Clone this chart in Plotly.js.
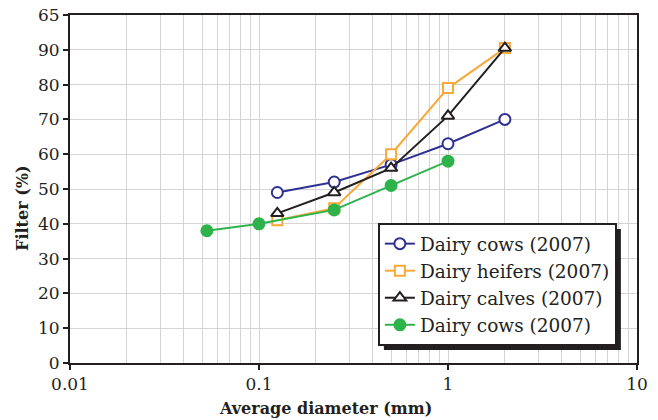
<!DOCTYPE html>
<html><head><meta charset="utf-8">
<script src="https://cdn.plot.ly/plotly-3.0.1.min.js"></script>
<style>body{margin:0;background:#fff}</style>
</head><body>
<div id="chart" style="width:658px;height:420px"></div>
<script>
const seriesNames = ["Dairy cows (2007)", "Dairy heifers (2007)", "Dairy calves (2007)", "Dairy cows (2007)"];
const cowsX = [0.125, 0.25, 0.5, 1, 2];
const cowsY = [49, 52, 57, 63, 70];
const heifersX = [0.125, 0.25, 0.5, 1, 2];
const heifersY = [41, 44.5, 60, 79, 90.5];
const calvesX = [0.125, 0.25, 0.5, 1, 2];
const calvesY = [43, 49, 56, 71, 90.5];
const cows2X = [0.053, 0.1, 0.25, 0.5, 1];
const cows2Y = [38, 40, 44, 51, 58];
const yTickVals = [0, 10, 20, 30, 40, 50, 60, 70, 80, 90, 100];
const yTickText = ["0", "10", "20", "30", "40", "50", "60", "70", "80", "90", "65"];

const serif = "DejaVu Serif, Liberation Serif, serif";
const ink = "#231f20";
const colors = ["#2e3192", "#f9a93a", "#231f20", "#2db34a"];
const symbols = ["circle", "square", "triangle-up", "circle"];
const xs = [cowsX, heifersX, calvesX, cows2X];
const ys = [cowsY, heifersY, calvesY, cows2Y];

const traces = xs.map((x, i) => ({
  x: x, y: ys[i], name: seriesNames[i], type: "scatter", mode: "lines+markers",
  line: {color: colors[i], width: 2},
  marker: {symbol: symbols[i], size: i === 1 ? 10 : 11, color: i === 3 ? colors[i] : "#fff",
           line: {color: colors[i], width: 2}}
}));

// legend box (paper coords)
const L = {x0: 0.543, y1: 0.402};

const layout = {
  width: 658, height: 420,
  margin: {l: 70, r: 21, t: 15, b: 57},
  paper_bgcolor: "#fff", plot_bgcolor: "#fff",
  showlegend: true,
  font: {family: serif, color: ink},
  xaxis: {
    type: "log", range: [-2, 1], tickmode: "linear", tick0: 0, dtick: 1,
    showgrid: true, gridcolor: "#d4d4d4", gridwidth: 1,
    minor: {showgrid: true, gridcolor: "#d4d4d4", gridwidth: 1, ticks: ""},
    showline: true, linecolor: ink, linewidth: 2, mirror: true,
    ticks: "outside", ticklen: 5, tickcolor: ink, tickwidth: 2,
    tickfont: {family: serif, size: 17, color: ink},
    zeroline: false
  },
  yaxis: {
    range: [0, 100], tickmode: "array", tickvals: yTickVals, ticktext: yTickText,
    showgrid: true, gridcolor: "#d4d4d4", gridwidth: 1,
    showline: true, linecolor: ink, linewidth: 2, mirror: true,
    ticks: "outside", ticklen: 5, tickcolor: ink, tickwidth: 2,
    tickfont: {family: serif, size: 17, color: ink},
    zeroline: false
  },
  annotations: [
    {text: "<b>Average diameter (mm)</b>", xref: "paper", yref: "paper",
     x: 0.45, y: -0.13, xanchor: "center", yanchor: "middle", showarrow: false,
     font: {family: serif, size: 16, color: ink}},
    {text: "<b>Filter (%)</b>", xref: "paper", yref: "paper", textangle: -90,
     x: -0.085, y: 0.445, xanchor: "center", yanchor: "middle", showarrow: false,
     font: {family: serif, size: 16, color: ink}}
  ],
  legend: {
    x: L.x0, y: L.y1, xanchor: "left", yanchor: "top",
    bgcolor: "#fff", bordercolor: ink, borderwidth: 2,
    font: {family: serif, size: 18.5, color: ink},
    tracegroupgap: 0, itemwidth: 30
  }
};

Plotly.newPlot("chart", traces, layout, {displayModeBar: false, staticPlot: true}).then(gd => {
  // add drop shadow matching the legend's drawn box
  const bg = gd.querySelector(".legend .bg");
  const lb = bg.getBoundingClientRect();
  const fl = gd._fullLayout;
  const px2x = p => (p - fl.margin.l) / fl._size.w;
  const px2y = p => 1 - (p - fl.margin.t) / fl._size.h;
  const off = 5;
  Plotly.relayout(gd, {shapes: [{
    type: "rect", xref: "paper", yref: "paper", layer: "above",
    x0: px2x(lb.left + off), x1: px2x(lb.right + off),
    y0: px2y(lb.bottom + off), y1: px2y(lb.top + off),
    fillcolor: ink, line: {width: 0}
  }]});
});
</script>
</body></html>
